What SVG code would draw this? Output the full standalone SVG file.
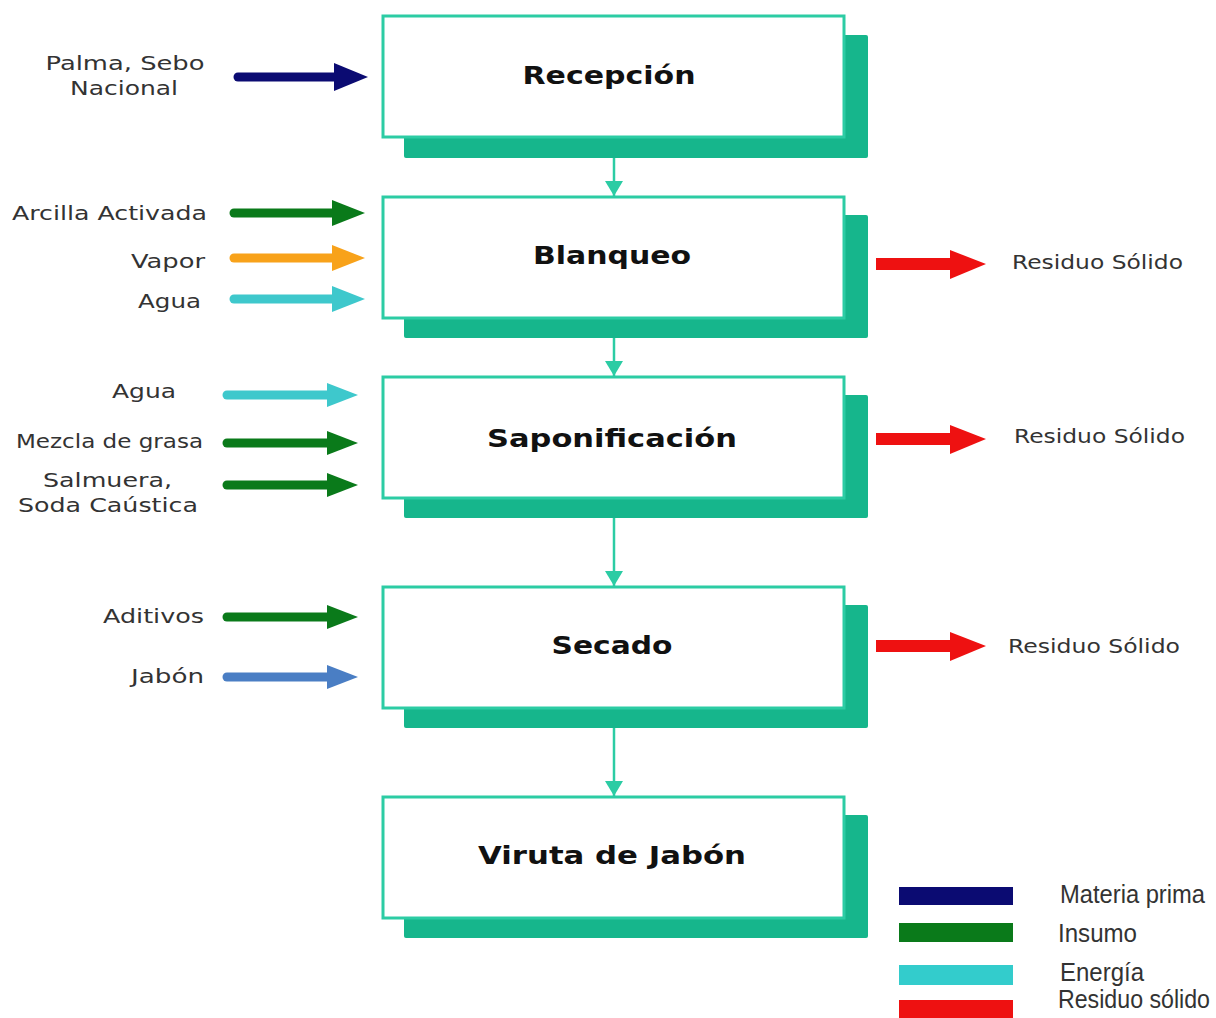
<svg xmlns="http://www.w3.org/2000/svg" width="1216" height="1018" viewBox="0 0 1216 1018">
  <defs>
    <style>
      .frame { fill: #ffffff; stroke: #2ccca4; stroke-width: 3; }
      .shadow { fill: #16b68c; }
      .title { font-family: "DejaVu Sans", Verdana, sans-serif; font-weight: bold; font-size: 25px; fill: #111111; text-anchor: middle; }
      .lbl { font-family: "DejaVu Sans", Verdana, sans-serif; font-size: 20px; fill: #333333; }
      .leg { font-family: "Liberation Sans", Arial, sans-serif; font-size: 25px; fill: #333333; }
      .link { stroke: #2ccca4; stroke-width: 2.5; fill: none; }
      .shaft { stroke-width: 9; stroke-linecap: round; fill: none; }
    </style>
    <marker id="down" markerWidth="18" markerHeight="15" refX="9" refY="15" orient="0" markerUnits="userSpaceOnUse">
      <polygon points="0,0 18,0 9,15" fill="#2ccca4"/>
    </marker>
  </defs>

  <rect width="1216" height="1018" fill="#ffffff"/>

  <!-- process boxes: offset shadow block behind a framed white card -->
  <g id="recepcion">
    <rect class="shadow" x="404" y="35" width="464" height="123" rx="2"/>
    <rect class="frame" x="383" y="16" width="461" height="121"/>
    <text class="title" x="609" y="84" textLength="173" lengthAdjust="spacingAndGlyphs">Recepción</text>
  </g>
  <g id="blanqueo">
    <rect class="shadow" x="404" y="215" width="464" height="123" rx="2"/>
    <rect class="frame" x="383" y="197" width="461" height="121"/>
    <text class="title" x="612" y="264" textLength="158" lengthAdjust="spacingAndGlyphs">Blanqueo</text>
  </g>
  <g id="saponificacion">
    <rect class="shadow" x="404" y="395" width="464" height="123" rx="2"/>
    <rect class="frame" x="383" y="377" width="461" height="121"/>
    <text class="title" x="612" y="447" textLength="250" lengthAdjust="spacingAndGlyphs">Saponificación</text>
  </g>
  <g id="secado">
    <rect class="shadow" x="404" y="605" width="464" height="123" rx="2"/>
    <rect class="frame" x="383" y="587" width="461" height="121"/>
    <text class="title" x="612" y="654" textLength="121" lengthAdjust="spacingAndGlyphs">Secado</text>
  </g>
  <g id="viruta">
    <rect class="shadow" x="404" y="815" width="464" height="123" rx="2"/>
    <rect class="frame" x="383" y="797" width="461" height="121"/>
    <text class="title" x="612" y="864" textLength="268" lengthAdjust="spacingAndGlyphs">Viruta de Jabón</text>
  </g>

  <!-- flow between stages -->
  <g id="connectors">
    <line class="link" x1="614" y1="158" x2="614" y2="196" marker-end="url(#down)"/>
    <line class="link" x1="614" y1="338" x2="614" y2="376" marker-end="url(#down)"/>
    <line class="link" x1="614" y1="518" x2="614" y2="586" marker-end="url(#down)"/>
    <line class="link" x1="614" y1="728" x2="614" y2="796" marker-end="url(#down)"/>
  </g>

  <!-- incoming streams -->
  <g id="inputs">
    <g id="in-palma">
      <line class="shaft" x1="238" y1="77" x2="336" y2="77" stroke="#0b0b72"/>
      <polygon points="334,63 368,77 334,91" fill="#0b0b72"/>
      <text class="lbl" x="125" y="70" text-anchor="middle" textLength="159" lengthAdjust="spacingAndGlyphs">Palma, Sebo</text>
      <text class="lbl" x="124" y="95" text-anchor="middle" textLength="108" lengthAdjust="spacingAndGlyphs">Nacional</text>
    </g>
    <g id="in-arcilla">
      <line class="shaft" x1="234" y1="213" x2="334" y2="213" stroke="#0a7a1a"/>
      <polygon points="332,200 365,213 332,226" fill="#0a7a1a"/>
      <text class="lbl" x="12" y="220" textLength="195" lengthAdjust="spacingAndGlyphs">Arcilla Activada</text>
    </g>
    <g id="in-vapor">
      <line class="shaft" x1="234" y1="258" x2="334" y2="258" stroke="#f8a21a"/>
      <polygon points="332,245 365,258 332,271" fill="#f8a21a"/>
      <text class="lbl" x="131" y="268" textLength="74" lengthAdjust="spacingAndGlyphs">Vapor</text>
    </g>
    <g id="in-agua-1">
      <line class="shaft" x1="234" y1="299" x2="334" y2="299" stroke="#3ec8cc"/>
      <polygon points="332,286 365,299 332,312" fill="#3ec8cc"/>
      <text class="lbl" x="138" y="308" textLength="63" lengthAdjust="spacingAndGlyphs">Agua</text>
    </g>
    <g id="in-agua-2">
      <line class="shaft" x1="227" y1="395" x2="328" y2="395" stroke="#3ec8cc"/>
      <polygon points="327,383 358,395 327,407" fill="#3ec8cc"/>
      <text class="lbl" x="112" y="398" textLength="64" lengthAdjust="spacingAndGlyphs">Agua</text>
    </g>
    <g id="in-mezcla">
      <line class="shaft" x1="227" y1="443" x2="328" y2="443" stroke="#0a7a1a"/>
      <polygon points="327,431 358,443 327,455" fill="#0a7a1a"/>
      <text class="lbl" x="16" y="448" textLength="187" lengthAdjust="spacingAndGlyphs">Mezcla de grasa</text>
    </g>
    <g id="in-salmuera">
      <line class="shaft" x1="227" y1="485" x2="328" y2="485" stroke="#0a7a1a"/>
      <polygon points="327,473 358,485 327,497" fill="#0a7a1a"/>
      <text class="lbl" x="43" y="487" textLength="129" lengthAdjust="spacingAndGlyphs">Salmuera,</text>
      <text class="lbl" x="18" y="512" textLength="180" lengthAdjust="spacingAndGlyphs">Soda Caústica</text>
    </g>
    <g id="in-aditivos">
      <line class="shaft" x1="227" y1="617" x2="328" y2="617" stroke="#0a7a1a"/>
      <polygon points="327,605 358,617 327,629" fill="#0a7a1a"/>
      <text class="lbl" x="103" y="623" textLength="101" lengthAdjust="spacingAndGlyphs">Aditivos</text>
    </g>
    <g id="in-jabon">
      <line class="shaft" x1="227" y1="677" x2="328" y2="677" stroke="#4a7ec4"/>
      <polygon points="327,665 358,677 327,689" fill="#4a7ec4"/>
      <text class="lbl" x="131" y="683" textLength="73" lengthAdjust="spacingAndGlyphs">Jabón</text>
    </g>
  </g>

  <!-- outgoing solid waste -->
  <g id="outputs">
    <g id="out-blanqueo">
      <rect x="876" y="258" width="76" height="12" fill="#ee1111"/>
      <polygon points="950,250 986,264 950,279" fill="#ee1111"/>
      <text class="lbl" x="1012" y="269" textLength="171" lengthAdjust="spacingAndGlyphs">Residuo Sólido</text>
    </g>
    <g id="out-saponificacion">
      <rect x="876" y="433" width="76" height="12" fill="#ee1111"/>
      <polygon points="950,425 986,439 950,454" fill="#ee1111"/>
      <text class="lbl" x="1014" y="443" textLength="171" lengthAdjust="spacingAndGlyphs">Residuo Sólido</text>
    </g>
    <g id="out-secado">
      <rect x="876" y="640" width="76" height="12" fill="#ee1111"/>
      <polygon points="950,632 986,646 950,661" fill="#ee1111"/>
      <text class="lbl" x="1008" y="653" textLength="172" lengthAdjust="spacingAndGlyphs">Residuo Sólido</text>
    </g>
  </g>

  <!-- legend -->
  <g id="legend">
    <rect x="899" y="887" width="114" height="18" fill="#0b0b72"/>
    <rect x="899" y="923" width="114" height="19" fill="#0a7a1a"/>
    <rect x="899" y="965" width="114" height="20" fill="#33cccc"/>
    <rect x="899" y="1000" width="114" height="18" fill="#ee1111"/>
    <text class="leg" x="1060" y="903" textLength="145" lengthAdjust="spacingAndGlyphs">Materia prima</text>
    <text class="leg" x="1058" y="942" textLength="79" lengthAdjust="spacingAndGlyphs">Insumo</text>
    <text class="leg" x="1060" y="981" textLength="84" lengthAdjust="spacingAndGlyphs">Energía</text>
    <text class="leg" x="1058" y="1008" font-size="22" textLength="152" lengthAdjust="spacingAndGlyphs">Residuo sólido</text>
  </g>
</svg>
